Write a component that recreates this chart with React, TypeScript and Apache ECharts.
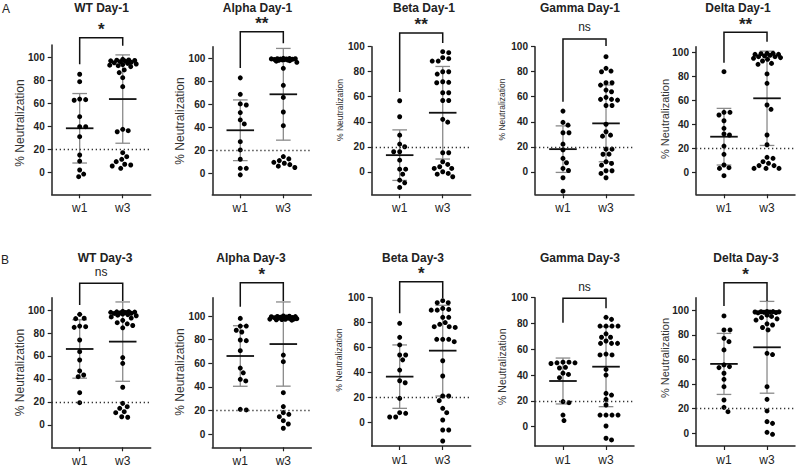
import React, { useEffect, useRef } from 'react';
import * as echarts from 'echarts';

const FONT = "'Liberation Sans', Arial, Helvetica, sans-serif";

// ---------------- data ----------------
const panelTitles = ['WT Day-1', 'Alpha Day-1', 'Beta Day-1', 'Gamma Day-1', 'Delta Day-1',
  'WT Day-3', 'Alpha Day-3', 'Beta Day-3', 'Gamma Day-3', 'Delta Day-3'];
const rowLetters = ['A', 'B'];
const groupLabels = ['w1', 'w3'];
const yTickValues = [0, 20, 40, 60, 80, 100];
const yAxisName = '% Neutralization';
const cutoff = 20;
const sigLabels = ['*', '**', '**', 'ns', '**', 'ns', '*', '*', 'ns', '*'];

const w1Values: number[][] = [
  [85.6, 79.1, 64, 63.5, 63, 48.7, 40, 40, 31.3, 15.4, 10, 2.3, -1.2, -3.5],
  [83, 68.7, 60.3, 59.4, 52.8, 46.4, 42.9, 27.5, 20.3, 12.2, 4.3, 4.3, -1.4],
  [56.8, 44, 29.3, 22.1, 20, 16, 16, 9.3, 2.1, 2.1, -1.9, -6.7, -8.8, -12.5],
  [48.5, 39.5, 37.3, 31.2, 31.2, 22.1, 17.5, 10.7, 7.2, 2.7, 1, -4.8, -15.5],
  [83.9, 50, 50, 47.8, 43, 36.7, 32, 31.1, 21.9, 15, 6.1, 3.9, 3.3, -2.8],
  [96.2, 92.8, 92.5, 86, 85.5, 84.9, 73.9, 63.8, 56.5, 47, 43.5, 42, 28.1, 19.4],
  [98, 91.5, 91.5, 88, 86.5, 79.7, 79.2, 70.7, 56, 52, 46.5, 45.1, 21.1, 20.6],
  [79.4, 68.1, 62, 53.9, 53.9, 50, 41.8, 33.2, 31.6, 19, 7.5, 7, 4, 4],
  [50, 50, 49.5, 49.5, 49, 46, 45.5, 41.5, 40.5, 38, 19.4, 18.6, 9, 4.7],
  [95.4, 84, 84, 77.2, 74.5, 67.8, 55.6, 54.2, 53.4, 48.8, 43.9, 37.9, 27.1, 21.1, 17.6],
];

const w3Values: number[][] = [
  [98.5, 98, 97.8, 97.5, 97.2, 97, 96.5, 96, 95.5, 95, 94.5, 94, 93.5, 93, 92.2, 89.3, 87, 82.6, 74.8,
    37.7, 36.5, 35.6, 17.4, 13.9, 11.6, 9.6, 7.3, 6.7, 5.8, 3.8],
  [100, 99.8, 99.7, 99.6, 99.5, 99.4, 99.3, 99.2, 99, 98.8, 98.6, 98.5, 98.3, 98, 97.5, 96.5,
    91.3, 76.5, 66, 53.3, 41.4, 14.5, 12.5, 11, 9.5, 8.7, 7.5, 6.2, 5],
  [96, 95.2, 91.2, 90.4, 88.5, 88.5, 80, 80, 78.1, 72, 71.5, 71.2, 63.2, 63.2, 57, 57, 41.9, 39.7,
    15.2, 15.2, 8, 5.9, 4, 2.7, 2.7, 0, -1.3, -1.9, -4],
  [92, 82.7, 80.5, 80, 71.2, 71.2, 69.3, 65.3, 64, 59.5, 57.9, 57.9, 57.3, 53, 53, 38, 32, 29.3, 28.5,
    18.1, 18.1, 14.1, 14, 8, 6.7, 5.3, 0.8, 0.8, -1.3, -4.8],
  [99.2, 99.2, 98.9, 98.3, 98.3, 97.5, 97, 96.4, 96.4, 95.6, 95, 94.2, 92.8, 90.8, 90, 82, 74.2, 56.1,
    52.5, 31.1, 23, 12.5, 11.7, 8.9, 7.5, 5.6, 5.6, 3.3, 3.3, 3.3],
  [98.8, 98.6, 98.4, 98.2, 98, 97.8, 97.5, 97.2, 97, 96.5, 96, 95.5, 95, 94, 93, 91, 89, 88, 86.5, 84.5,
    58.6, 53.6, 32.8, 18.8, 15.9, 14.5, 11.6, 10.7, 7.2, 6.7],
  [100, 99.8, 99.6, 99.5, 99.4, 99.2, 99, 98.8, 98.6, 98.5, 98.3, 98.2, 98, 97.8, 97.6, 97.4, 97.2, 97,
    96.8, 96.5, 67, 61.4, 35.2, 23.4, 18.3, 16.9, 14.9, 11.5, 8.7, 5.1],
  [97.6, 96, 96, 91.4, 90.6, 90, 90, 84.2, 84.2, 80, 78.6, 76.7, 76.7, 76.1, 66.5, 66.5, 66.5, 64.6,
    49.3, 37, 20.9, 20.9, 17.2, 11, 7.5, 1.6, -6.4, -6.4, -15.3],
  [84.8, 83.2, 78, 78, 78, 78, 72, 69.3, 69.3, 66.4, 64.6, 64.6, 64.6, 56.3, 55.6, 55.6, 44.4, 40,
    25.8, 24.5, 21.2, 16.8, 9, 9, 9, 9, 0.5, -9, -10.3],
  [99, 98.9, 98.8, 98.7, 98.6, 98.5, 98.4, 98.2, 98, 96, 95, 94, 93, 92, 89, 88, 86, 84,
    65, 64, 37.9, 27.6, 18.2, 9.5, 8.1, 0.8, -0.8],
];

const w1Mean = [38.6, 37.4, 13.3, 18.1, 29.7, 66.1, 66.2, 36.5, 35.4, 56.4];
const w1SD = [30.2, 26.4, 20.2, 18.6, 23.6, 25.4, 25.6, 25.5, 17.8, 24.8];
const w3Mean = [64, 68.7, 47.2, 38.7, 61.7, 72.5, 76.3, 57.4, 46.5, 69.9];
const w3SD = [38.4, 39.9, 37, 30.7, 39.3, 34.5, 35.6, 36.5, 31, 37.3];

// significance bracket heights (data units)
const bracketTop = [117.4, 123.1, 111, 106.2, 116.7, 123.2, 128.2, 112.9, 99.5, 122.4];
const bracketLeft = [94.3, 91.6, 63.8, 56, 91.3, 104.3, 107.9, 87.4, 80.6, 103.5];
const bracketRight = [110.4, 113, 103, 100.6, 108.8, 107.8, 112.7, 99.5, 91.8, 107.6];

// y ranges of each panel
const yMins = [-18.8, -18.3, -18, -18, -18.3, -19.4, -11, -19.3, -15, -10.3];
const yMaxs = [111, 110.1, 100, 100, 104.7, 110.7, 115.5, 100, 100, 110.2];

// ---------------- layout ----------------
const gridLefts = [51.7, 212.3, 371.7, 535, 696];
const gridWidth = 99;
const rowTopA = [45, 46.7, 46.7, 46.7, 46.7];
const rowTopB = 297.7;
const rowBottom = [[194.3, 194.3, 194.3, 194.3, 194.3], [447.3, 447.3, 446, 446, 446]];
const titleX = [[101.5, 257.5, 424, 580, 738], [105, 251, 413, 580, 746]];
const titleY = [7.5, 258];
const nameFont = [12, 12, 8.5, 8.5, 11, 12, 12, 8.7, 10.5, 11];
const nameX = [20, 180, 340, 502, 665, 20, 180, 339.3, 502.3, 665];
const nameY = [123, 121, 110, 109.5, 119, 372.5, 372, 360, 366.7, 358];
const X_MIN = -0.65;
const X_MAX = 1.65;
const SWARM_HALF_WIDTH = 13.5; // px

function swarm(values: number[], pyu: number, pxu: number, d = 5.6): number[] {
  const order = values.map((_, i) => i).sort((a, b) => values[b] - values[a]);
  const placed: [number, number][] = [];
  const out = new Array(values.length).fill(0);
  const cands: number[] = [0];
  for (let k = 1; k * 0.5 <= SWARM_HALF_WIDTH; k++) { cands.push(k * 0.5); cands.push(-k * 0.5); }
  for (const i of order) {
    const y = values[i] * pyu;
    let bestOff = 0;
    let bestScore = -1;
    for (const cand of cands) {
      let minD = Infinity;
      for (const [px, py] of placed) {
        const dd = Math.hypot(px - cand, py - y);
        if (dd < minD) minD = dd;
      }
      if (minD >= d) { bestOff = cand; break; }
      if (minD > bestScore + 0.3) { bestScore = minD; bestOff = cand; }
    }
    placed.push([bestOff, y]);
    out[i] = bestOff / pxu;
  }
  return out;
}

export default function App() {
  const ref = useRef<HTMLDivElement>(null);
  useEffect(() => {
    const chart = echarts.init(ref.current!, null, { renderer: 'svg' });
    const grid: any[] = [];
    const xAxis: any[] = [];
    const yAxis: any[] = [];
    const series: any[] = [];
    const graphic: any[] = [];

    for (let i = 0; i < 10; i++) {
      const row = i < 5 ? 0 : 1;
      const col = i % 5;
      const top = row === 0 ? rowTopA[col] : rowTopB;
      const height = rowBottom[row][col] - top;
      grid.push({ left: gridLefts[col], top, width: gridWidth, height });
      const pyu = height / (yMaxs[i] - yMins[i]);
      const pxu = gridWidth / (X_MAX - X_MIN);

      xAxis.push({
        gridIndex: i, type: 'value', min: X_MIN, max: X_MAX,
        axisLine: { show: true, onZero: false, lineStyle: { color: '#222', width: 1.5 } },
        axisTick: { show: true, customValues: [0, 1], length: 4, lineStyle: { color: '#222', width: 1.2 } },
        axisLabel: {
          customValues: [0, 1], formatter: (v: number) => groupLabels[Math.round(v)] ?? '',
          color: '#222', fontSize: 12, fontFamily: FONT, margin: 8,
        },
        splitLine: { show: false },
      });
      yAxis.push({
        gridIndex: i, type: 'value', min: yMins[i], max: yMaxs[i],
        axisLine: { show: true, onZero: false, lineStyle: { color: '#222', width: 1.5 } },
        axisTick: { show: true, customValues: yTickValues, length: 4, lineStyle: { color: '#222', width: 1.2 } },
        axisLabel: {
          customValues: yTickValues, color: '#222', fontSize: 10, fontWeight: 'bold',
          fontFamily: FONT, margin: 7,
        },
        splitLine: { show: false },
      });

      // y-axis title
      graphic.push({
        type: 'text', x: nameX[i], y: nameY[i], rotation: Math.PI / 2,
        style: {
          text: yAxisName, fill: '#333', font: `${nameFont[i]}px ${FONT}`,
          textAlign: 'center', align: 'center', textVerticalAlign: 'middle', verticalAlign: 'middle',
        },
      });

      // mean +/- SD
      series.push({
        type: 'custom', xAxisIndex: i, yAxisIndex: i, clip: false, silent: true, z: 2,
        data: [[0, w1Mean[i], w1SD[i]], [1, w3Mean[i], w3SD[i]]],
        renderItem: (_p: any, api: any) => {
          const x = api.value(0), m = api.value(1), s = api.value(2);
          const ml = api.coord([x - 0.32, m]);
          const mr = api.coord([x + 0.32, m]);
          const t = api.coord([x, m + s]);
          const b = api.coord([x, m - s]);
          const cw = api.coord([x + 0.17, m])[0] - api.coord([x, m])[0];
          const grey = { stroke: '#8a8a8a', lineWidth: 1.3 };
          return {
            type: 'group',
            children: [
              { type: 'line', shape: { x1: t[0], y1: t[1], x2: b[0], y2: b[1] }, style: grey },
              { type: 'line', shape: { x1: t[0] - cw, y1: t[1], x2: t[0] + cw, y2: t[1] }, style: grey },
              { type: 'line', shape: { x1: b[0] - cw, y1: b[1], x2: b[0] + cw, y2: b[1] }, style: grey },
              { type: 'line', shape: { x1: ml[0], y1: ml[1], x2: mr[0], y2: mr[1] }, style: { stroke: '#111', lineWidth: 1.8 } },
            ],
          };
        },
      });

      // points
      const o1 = swarm(w1Values[i], pyu, pxu);
      const o3 = swarm(w3Values[i], pyu, pxu);
      const pts = [
        ...w1Values[i].map((v, k) => [0 + o1[k], v]),
        ...w3Values[i].map((v, k) => [1 + o3[k], v]),
      ];
      series.push({
        type: 'scatter', xAxisIndex: i, yAxisIndex: i, z: 3,
        symbol: 'circle', symbolSize: 5,
        itemStyle: { color: '#000', opacity: 1 },
        data: pts,
        markLine: {
          silent: true, symbol: 'none', label: { show: false },
          lineStyle: { type: [1.3, 2.7], color: '#333', width: 1.3 },
          data: [{ yAxis: cutoff }],
        },
      });

      // significance bracket
      const sig = sigLabels[i];
      series.push({
        type: 'custom', xAxisIndex: i, yAxisIndex: i, clip: false, silent: true, z: 4,
        data: [[bracketLeft[i], bracketRight[i], bracketTop[i]]],
        renderItem: (_p: any, api: any) => {
          const l = api.value(0), r = api.value(1), tp = api.value(2);
          const p1 = api.coord([0, l]);
          const p2 = api.coord([0, tp]);
          const p3 = api.coord([1, tp]);
          const p4 = api.coord([1, r]);
          const isNs = sig === 'ns';
          return {
            type: 'group',
            children: [
              { type: 'polyline', shape: { points: [p1, p2, p3, p4] }, style: { stroke: '#111', lineWidth: 1.5, fill: 'none' } },
              {
                type: 'text', x: (p2[0] + p3[0]) / 2, y: p2[1] - (isNs ? 11.5 : 8),
                style: {
                  text: sig, fill: '#222',
                  font: isNs ? `12px ${FONT}` : `bold 17px ${FONT}`,
                  textAlign: 'center', align: 'center',
                  textVerticalAlign: 'middle', verticalAlign: 'middle',
                },
              },
            ],
          };
        },
      });

      graphic.push({
        type: 'text', x: titleX[row][col], y: titleY[row],
        style: {
          text: panelTitles[i], fill: '#222', font: `bold 12px ${FONT}`,
          textAlign: 'center', textVerticalAlign: 'middle', align: 'center', verticalAlign: 'middle',
        },
      });
    }
    graphic.push({
      type: 'text', x: 6, y: 9,
      style: { text: rowLetters[0], fill: '#222', font: `12px ${FONT}`, textAlign: 'center', textVerticalAlign: 'middle' },
    });
    graphic.push({
      type: 'text', x: 5, y: 259.5,
      style: { text: rowLetters[1], fill: '#222', font: `12px ${FONT}`, textAlign: 'center', textVerticalAlign: 'middle' },
    });

    chart.setOption({
      animation: false,
      backgroundColor: '#ffffff',
      textStyle: { fontFamily: FONT },
      grid, xAxis, yAxis, series, graphic,
    });
    return () => chart.dispose();
  }, []);
  return (
    <div
      ref={ref}
      style={{ position: 'absolute', left: 0, top: 0, width: 797, height: 468, background: '#fff' }}
    />
  );
}
